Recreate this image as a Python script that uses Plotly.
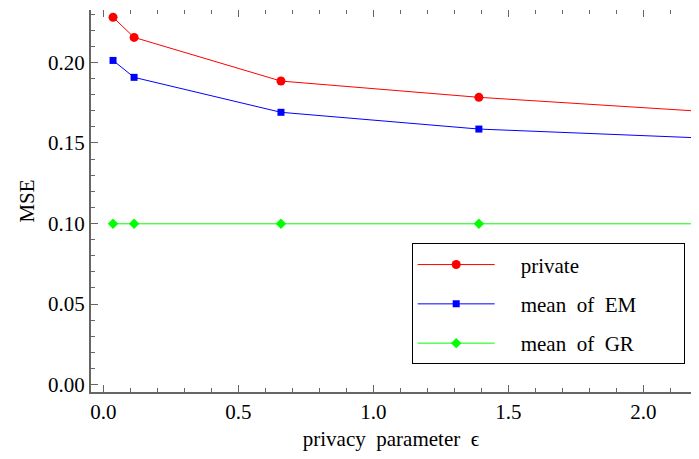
import plotly.graph_objects as go

eps = [0.036, 0.114, 0.658, 1.391, 2.197]
private = [0.228, 0.2155, 0.1884, 0.1783, 0.1698]
mean_em = [0.2012, 0.1907, 0.1690, 0.1586, 0.1532]
mean_gr = [0.0998, 0.0998, 0.0998, 0.0998, 0.0998]
names = ["private", "mean of EM", "mean of GR"]
colors = ["#FF0000", "#0000FF", "#00FF00"]
symbols = ["circle", "square", "diamond"]
sizes = [9, 7, 8]

FONT = "Times New Roman"
fig = go.Figure()
for i, ys in enumerate([private, mean_em, mean_gr]):
    fig.add_trace(go.Scatter(
        x=eps, y=ys, mode="lines+markers",
        name="\u00a0\u00a0\u00a0\u00a0" + names[i].replace(" ", "\u00a0 ") + "\u00a0" * 8,
        legendgroup=names[i],
        line=dict(color=colors[i], width=1),
        marker=dict(color=colors[i], symbol=symbols[i], size=sizes[i]),
        cliponaxis=False,
    ))

axcol = "#666666"
xr = [-0.0456, 2.1767]
yr = [-0.0046, 0.2325]
fig.update_layout(
    width=683, height=443,
    margin=dict(l=83, r=0, t=2, b=59, autoexpand=False),
    paper_bgcolor="white", plot_bgcolor="white",
    font=dict(family=FONT, size=21, color="black"),
    showlegend=True,
    legend=dict(
        x=0.5345, y=0.389, xanchor="left", yanchor="top",
        bordercolor="black", borderwidth=1, bgcolor="white",
        font=dict(family=FONT, size=21),
        tracegroupgap=9, traceorder="grouped", itemwidth=77,
    ),
    xaxis=dict(
        range=xr, showgrid=False, zeroline=False, automargin=False,
        showline=True, linecolor=axcol, linewidth=2,
        ticks="inside", ticklen=7, tickwidth=1, tickcolor=axcol,
        dtick=0.5, tick0=0, tickformat=".1f",
        tickfont=dict(family=FONT, size=21),
        minor=dict(ticks="inside", ticklen=4, dtick=0.1, tick0=0, tickcolor=axcol, showgrid=False),
        title=dict(text="privacy\u00a0 parameter\u00a0 \u03f5", font=dict(family=FONT, size=21), standoff=12),
    ),
    xaxis2=dict(
        overlaying="x", side="top", matches="x", range=xr, automargin=False,
        showgrid=False, zeroline=False, showline=False, showticklabels=False,
        ticks="inside", ticklen=7, tickwidth=1, tickcolor=axcol,
        dtick=0.5, tick0=0,
        minor=dict(ticks="inside", ticklen=4, dtick=0.1, tick0=0, tickcolor=axcol, showgrid=False),
    ),
    yaxis=dict(
        range=yr, showgrid=False, zeroline=False, automargin=False,
        showline=True, linecolor=axcol, linewidth=2,
        ticks="inside", ticklen=7, tickwidth=1, tickcolor=axcol,
        dtick=0.05, tick0=0, tickformat=".2f",
        tickfont=dict(family=FONT, size=21),
        minor=dict(ticks="inside", ticklen=4, dtick=0.01, tick0=0, tickcolor=axcol, showgrid=False),
        title=dict(text="MSE", font=dict(family=FONT, size=21), standoff=8),
    ),
)
fig.add_trace(go.Scatter(x=[eps[0]], y=[yr[1] + 1], xaxis="x2", mode="markers",
                         showlegend=False, hoverinfo="skip", marker=dict(opacity=0)))
fig.write_html("out.html")
